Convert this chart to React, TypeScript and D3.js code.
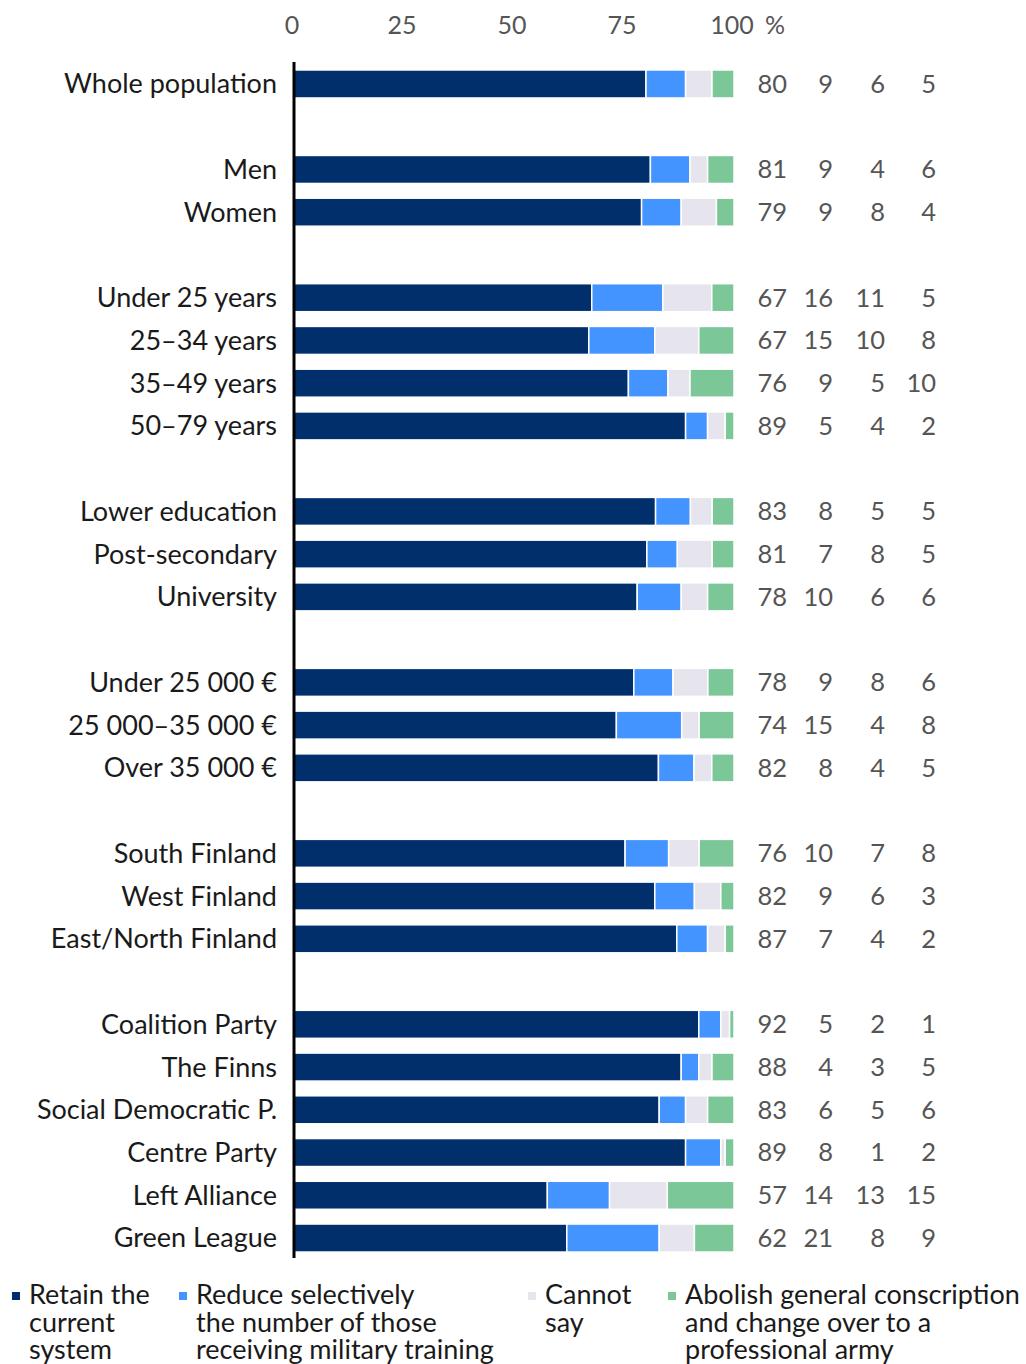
import React from 'react';
import * as d3 from 'd3';

// one entry per row, null = empty spacer row between groups
const categories = [
  'Whole population', null,
  'Men', 'Women', null,
  'Under 25 years', '25–34 years', '35–49 years', '50–79 years', null,
  'Lower education', 'Post-secondary', 'University', null,
  'Under 25 000 €', '25 000–35 000 €', 'Over 35 000 €', null,
  'South Finland', 'West Finland', 'East/North Finland', null,
  'Coalition Party', 'The Finns', 'Social Democratic P.', 'Centre Party', 'Left Alliance', 'Green League',
];

const retain = [80, null, 81, 79, null, 67, 67, 76, 89, null, 83, 81, 78, null, 78, 74, 82, null, 76, 82, 87, null, 92, 88, 83, 89, 57, 62];
const reduce = [9, null, 9, 9, null, 16, 15, 9, 5, null, 8, 7, 10, null, 9, 15, 8, null, 10, 9, 7, null, 5, 4, 6, 8, 14, 21];
const cannotSay = [6, null, 4, 8, null, 11, 10, 5, 4, null, 5, 8, 6, null, 8, 4, 4, null, 7, 6, 4, null, 2, 3, 5, 1, 13, 8];
const abolish = [5, null, 6, 4, null, 5, 8, 10, 2, null, 5, 5, 6, null, 6, 8, 5, null, 8, 3, 2, null, 1, 5, 6, 2, 15, 9];

const seriesNames = ['Retain the current system', 'Reduce selectively', 'Cannot say', 'Abolish'];
const legendLines = [
  ['Retain the', 'current', 'system'],
  ['Reduce selectively', 'the number of those', 'receiving military training'],
  ['Cannot', 'say'],
  ['Abolish general conscription', 'and change over to a', 'professional army'],
];
const colors = ['#002f6c', '#4394ff', '#e6e4ec', '#7cc798'];
const ticks = [0, 25, 50, 75, 100];

const FONT = 'Lato, "Open Sans", sans-serif';

const App = () => {
  const width = 1026;
  const height = 1364;

  const x = d3.scaleLinear().domain([0, 100]).range([294, 734]);
  const y = d3
    .scaleBand<number>()
    .domain(d3.range(categories.length))
    .range([62.6, 1259.4])
    .paddingInner(0.345)
    .paddingOuter(0.1725);

  const series = [retain, reduce, cannotSay, abolish];
  // value columns, right aligned
  const valueX = [787, 833, 885, 936];
  const legendX = [12, 179, 528, 668];

  return (
    <svg width={width} height={height} style={{ position: 'absolute', left: 0, top: 0 }}>
      {/* ticks on top */}
      {ticks.map((t) => (
        <text key={t} x={x(t) - 2} y={34} textAnchor="middle" fontSize={25} fill="#555" fontFamily={FONT}>
          {t}
        </text>
      ))}
      <text x={775} y={34} textAnchor="middle" fontSize={25} fill="#555" fontFamily={FONT}>%</text>

      {categories.map((c, i) => {
        if (c === null) return null;
        const vals = series.map((s) => s[i] as number);
        const total = d3.sum(vals);
        const stack = d3.cumsum(vals).map((v) => (v / total) * 100);
        const yc = (y(i) as number) + y.bandwidth() / 2;
        return (
          <g key={c}>
            <text x={277} y={yc} dy="0.35em" textAnchor="end" fontSize={27} fill="#1a1a1a" fontFamily={FONT}>
              {c}
            </text>
            {vals.map((v, k) => {
              const x0 = x(k === 0 ? 0 : stack[k - 1]);
              const x1 = x(stack[k]);
              return (
                <rect
                  key={k}
                  x={x0}
                  y={y(i)}
                  width={Math.max(0, x1 - x0)}
                  height={y.bandwidth()}
                  fill={colors[k]}
                  stroke="#fff"
                  strokeWidth={1.5}
                >
                  <title>{`${seriesNames[k]}: ${v}`}</title>
                </rect>
              );
            })}
            {vals.map((v, k) => (
              <text key={'v' + k} x={valueX[k]} y={yc} dy="0.35em" textAnchor="end" fontSize={25.5} fill="#555" fontFamily={FONT}>
                {v}
              </text>
            ))}
          </g>
        );
      })}

      {/* vertical axis line */}
      <line x1={294} x2={294} y1={62} y2={1258} stroke="#000" strokeWidth={3} />

      {/* legend */}
      {legendLines.map((lines, k) => (
        <g key={k}>
          <rect x={legendX[k]} y={1292} width={8} height={8} fill={colors[k]} />
          {lines.map((l, j) => (
            <text key={j} x={legendX[k] + 17} y={1304 + j * 27.5} fontSize={27} fill="#1a1a1a" fontFamily={FONT}>
              {l}
            </text>
          ))}
        </g>
      ))}
    </svg>
  );
};

export default App;
